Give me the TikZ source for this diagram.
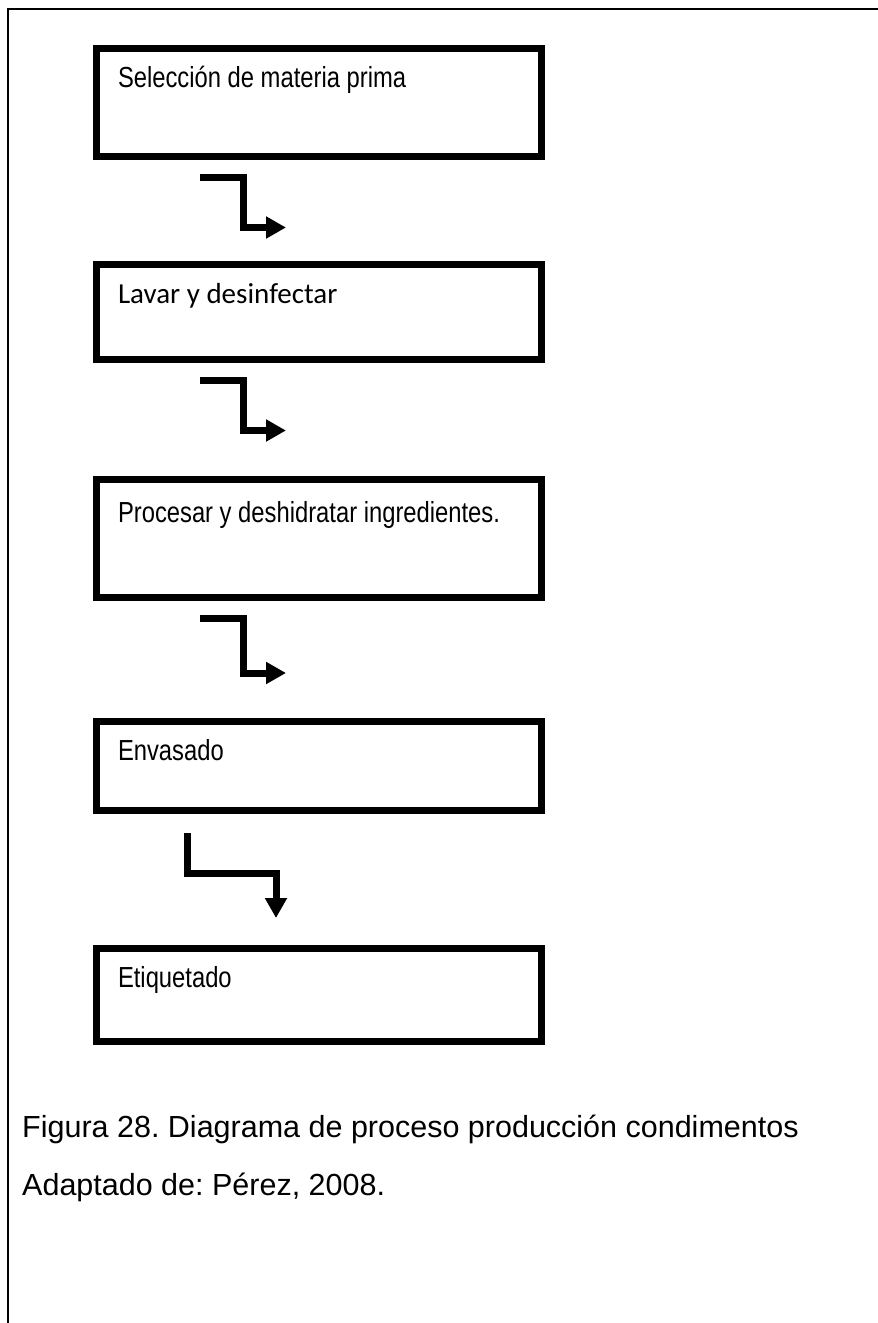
\documentclass[tikz,border=0pt]{standalone}
\usepackage{fontspec}
\setmainfont{Liberation Sans}
\newfontfamily\narrowfont[FakeStretch=0.82]{Liberation Sans}
\newfontfamily\calibrifont{Carlito}
\usetikzlibrary{arrows.meta}
\frenchspacing
\begin{document}
\begin{tikzpicture}[x=1pt,y=-1pt,
  stepbox/.style={draw, line width=7pt, rectangle, minimum width=445pt,
    inner sep=0pt, outer sep=0pt},
  steptext/.style={anchor=base west, inner sep=0pt, outer sep=0pt,
    font=\narrowfont\fontsize{29}{34}\selectfont},
  flowarrow/.style={line width=7pt, line join=miter, line cap=butt,
    -{Triangle[length=20pt,width=21pt]}},
  caption/.style={anchor=base west, inner sep=0pt,
    font=\fontsize{30.5}{36}\selectfont}]
\useasboundingbox (0,0) rectangle (878,1323);
\clip (0,0) rectangle (878,1323);
% page frame, running off the right and bottom edges
\draw[line width=2pt] (8,9) rectangle (900,1400);

% process steps
\node[stepbox, minimum height=108pt] (b1) at (319,102.5) {};
\node[stepbox, minimum height=95pt]  (b2) at (319,312) {};
\node[stepbox, minimum height=118pt] (b3) at (319,538.5) {};
\node[stepbox, minimum height=89pt]  (b4) at (319,766) {};
\node[stepbox, minimum height=93pt]  (b5) at (319,995) {};

\node[steptext] (t1) at ([xshift=21.5pt,yshift=-38.5pt]b1.north west) {Selección de materia prima};
\node[steptext, font=\calibrifont\fontsize{29}{34}\selectfont] (t2)
  at ([xshift=21.5pt,yshift=-38.5pt]b2.north west) {Lavar y desinfectar};
\node[steptext] (t3) at ([xshift=21.5pt,yshift=-42.5pt]b3.north west) {Procesar y deshidratar ingredientes.};
\node[steptext] (t4) at ([xshift=21.5pt,yshift=-38.5pt]b4.north west) {Envasado};
\node[steptext] (t5) at ([xshift=21.5pt,yshift=-38.5pt]b5.north west) {Etiquetado};

% stepped arrows between the steps
\coordinate (a1s) at (200,177.5);  \coordinate (a1e) at (286,227.5);
\coordinate (a2s) at (200,380.5);  \coordinate (a2e) at (286,430.5);
\coordinate (a3s) at (200,618);    \coordinate (a3e) at (286,673);
\coordinate (a4s) at (187.5,833);  \coordinate (a4e) at (276,918);

\draw[flowarrow] (a1s) -- (a1s -| 243,0) |- (a1e);
\draw[flowarrow] (a2s) -- (a2s -| 243,0) |- (a2e);
\draw[flowarrow] (a3s) -- (a3s -| 243,0) |- (a3e);
\draw[flowarrow] (a4s) -- ++(0,40) -| (a4e);

% caption and source
\node[caption] (cap) at (22,1137) {Figura 28. Diagrama de proceso producción condimentos};
\node[caption] (src) at (22,1195) {Adaptado de: Pérez, 2008.};
\end{tikzpicture}
\end{document}
